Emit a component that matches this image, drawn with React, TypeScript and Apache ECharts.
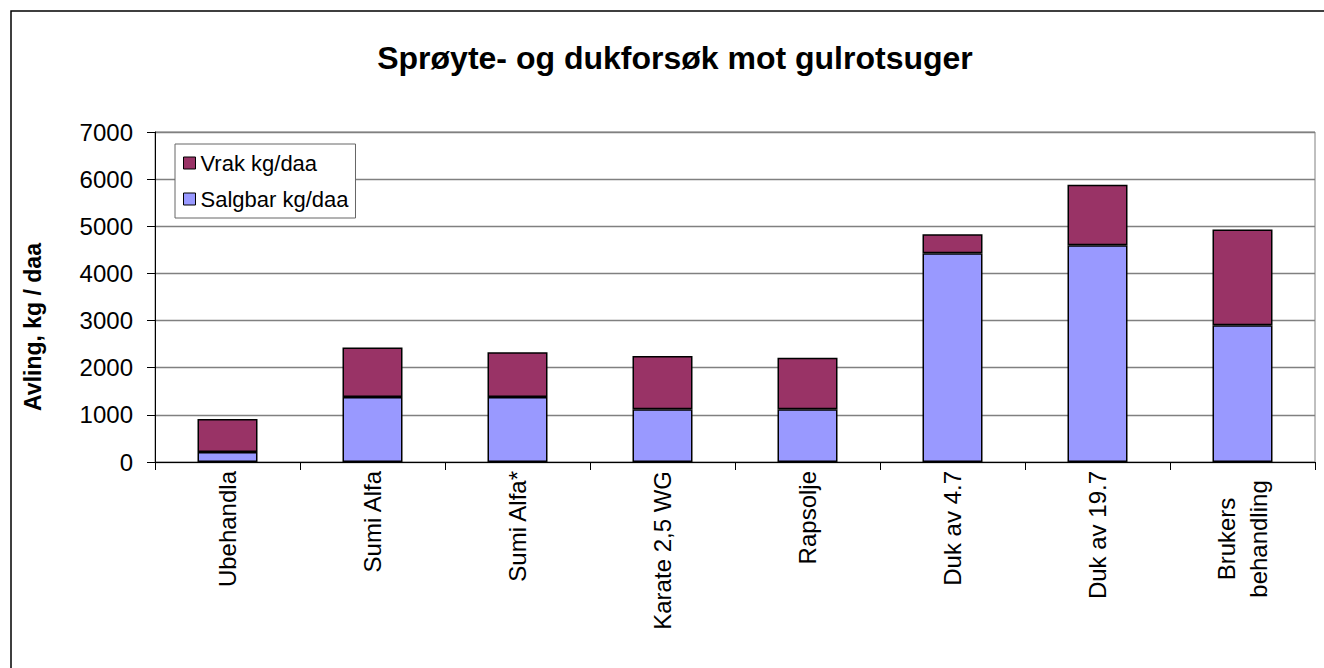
import React, { useEffect, useRef } from "react";
import * as echarts from "echarts";

const categories = [
  "Ubehandla",
  "Sumi Alfa",
  "Sumi Alfa*",
  "Karate 2,5 WG",
  "Rapsolje",
  "Duk av 4.7",
  "Duk av 19.7",
  "Brukers\nbehandling",
];
const salgbar = [210, 1380, 1380, 1120, 1120, 4430, 4600, 2900];
const vrak = [700, 1050, 950, 1130, 1090, 400, 1280, 2030];
const yTicks = [0, 1000, 2000, 3000, 4000, 5000, 6000, 7000];
const titleText = "Sprøyte- og dukforsøk mot gulrotsuger";
const yAxisTitle = "Avling, kg / daa";
const seriesNames = ["Salgbar kg/daa", "Vrak kg/daa"];

const FONT = "'Liberation Sans', Arial, sans-serif";

export default function App() {
  const ref = useRef<HTMLDivElement>(null);
  useEffect(() => {
    if (!ref.current) return;
    const chart = echarts.init(ref.current, undefined, { renderer: "svg" });
    chart.setOption({
      animation: false,
      backgroundColor: "#ffffff",
      textStyle: { fontFamily: FONT },
      title: {
        text: titleText,
        left: 670,
        top: 37,
        textAlign: "center",
        textStyle: { fontFamily: FONT, fontSize: 32, fontWeight: "bold", color: "#000" },
      },
      legend: {
        orient: "vertical",
        left: 175,
        top: 144,
        data: [seriesNames[1], seriesNames[0]],
        backgroundColor: "#fff",
        borderColor: "#666",
        borderWidth: 1,
        padding: [7, 7, 7, 8],
        itemWidth: 12,
        itemHeight: 12,
        itemGap: 12,
        icon: "rect",
        itemStyle: { borderColor: "#000", borderWidth: 1 },
        textStyle: { fontFamily: FONT, fontSize: 22, color: "#000", lineHeight: 24 },
      },
      grid: {
        left: 155,
        top: 132,
        right: 9,
        bottom: 206,
        show: true,
        borderColor: "#808080",
        borderWidth: 1,
        containLabel: false,
      },
      graphic: [
        {
          type: "rect",
          shape: { x: 11, y: 11, width: 1400, height: 700 },
          style: { fill: "none", stroke: "#000", lineWidth: 1.5 },
          silent: true,
        },
        {
          type: "text",
          x: 33,
          y: 327,
          rotation: Math.PI / 2,
          style: {
            text: yAxisTitle,
            fontFamily: FONT,
            fontSize: 23,
            fontWeight: "bold",
            fill: "#000",
            align: "center",
            verticalAlign: "middle",
          },
        },
      ],
      xAxis: {
        type: "category",
        data: categories,
        axisLine: { lineStyle: { color: "#000", width: 1 } },
        axisTick: { show: true, length: 8, alignWithLabel: false, lineStyle: { color: "#000" } },
        axisLabel: {
          rotate: 90,
          margin: 9,
          fontFamily: FONT,
          fontSize: 24,
          color: "#000",
          interval: 0,
          formatter: (v: string) =>
            v.indexOf("\n") >= 0
              ? v
                  .split("\n")
                  .map((s) => "{c|" + s + "}")
                  .join("\n")
              : v,
          rich: {
            c: { align: "center", width: 136, fontFamily: FONT, fontSize: 24, color: "#000", lineHeight: 32 },
          },
        },
      },
      yAxis: {
        type: "value",
        min: yTicks[0],
        max: yTicks[yTicks.length - 1],
        interval: 1000,
        axisLine: { show: true, lineStyle: { color: "#000", width: 1 } },
        axisTick: { show: true, length: 8, lineStyle: { color: "#000" } },
        axisLabel: {
          margin: 22,
          fontFamily: FONT,
          fontSize: 24,
          color: "#000",
          formatter: (v: number) => String(v),
        },
        splitLine: { show: true, lineStyle: { color: "#808080", width: 1.3 } },
      },
      series: [
        {
          name: seriesNames[0],
          type: "bar",
          stack: "total",
          data: salgbar,
          barWidth: 60,
          itemStyle: { color: "#9999FF", borderColor: "#000", borderWidth: 1.5 },
        },
        {
          name: seriesNames[1],
          type: "bar",
          stack: "total",
          data: vrak,
          barWidth: 60,
          itemStyle: { color: "#993366", borderColor: "#000", borderWidth: 1.5 },
        },
      ],
    });
    return () => chart.dispose();
  }, []);
  return (
    <div
      ref={ref}
      style={{ position: "fixed", left: 0, top: 0, width: 1324, height: 668 }}
    />
  );
}
